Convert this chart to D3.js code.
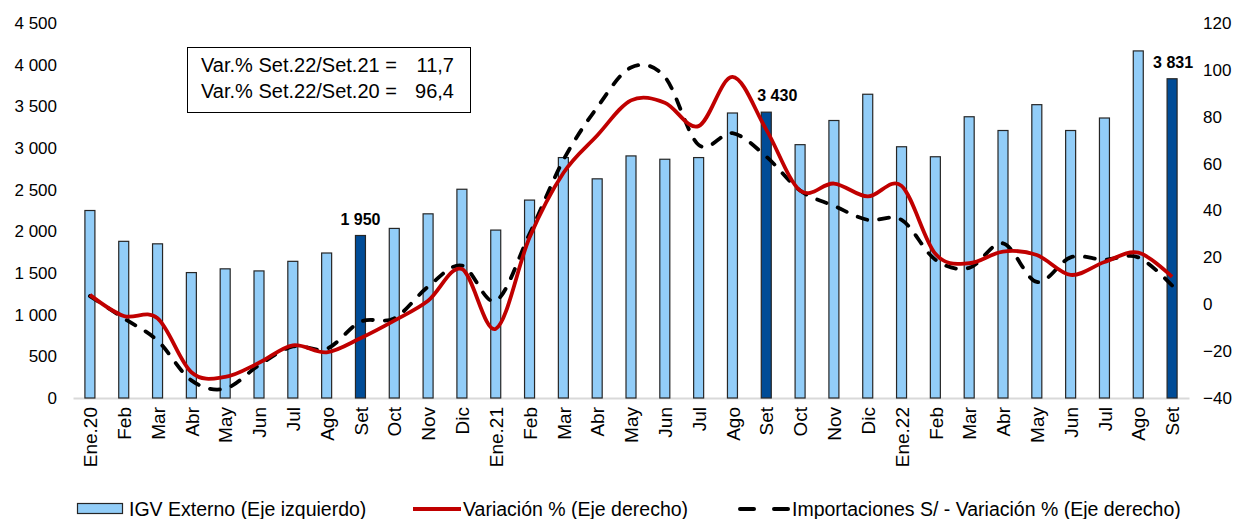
<!DOCTYPE html>
<html>
<head>
<meta charset="utf-8">
<script src="https://cdn.jsdelivr.net/npm/d3@7"></script>
<style>
  html, body { margin: 0; padding: 0; background: #fff; }
  svg { display: block; font-family: "Liberation Sans", Arial, sans-serif; }
</style>
</head>
<body>
<svg id="chart" width="1238" height="519"></svg>
<script>
// ---------- data ----------
const months = ["Ene.20","Feb","Mar","Abr","May","Jun","Jul","Ago","Set","Oct","Nov","Dic",
                "Ene.21","Feb","Mar","Abr","May","Jun","Jul","Ago","Set","Oct","Nov","Dic",
                "Ene.22","Feb","Mar","Abr","May","Jun","Jul","Ago","Set"];
const igvExterno = [2250,1880,1850,1505,1550,1525,1640,1740,1950,2035,2210,2505,
                    2015,2375,2885,2630,2905,2865,2885,3420,3430,3040,3330,3645,
                    3015,2895,3375,3210,3520,3210,3360,4165,3831];
const variacion = [4,-5,-6,-29,-31,-25,-17.5,-20.5,-14.5,-7,1.5,15,
                   -10.5,28.5,56,72,87,86,76,97,74.5,48.5,51.5,46,
                   50.5,21.5,17.5,22.5,21,12.5,18,22,11.7];
const importaciones = [3.5,-6,-15.5,-32.5,-36,-26,-18,-19,-7.5,-6,7.5,16.5,
                       1.5,30,61.5,84,101,97,68,73,63,48.5,42,36,
                       36,19,15.5,26,9.5,20,19,20,8];
const highlighted = [8, 20, 32];          // Set.20, Set.21, Set.22
const barLabels = ["1 950", "3 430", "3 831"];
const leftTicks = [0,500,1000,1500,2000,2500,3000,3500,4000,4500];
const rightTicks = [-40,-20,0,20,40,60,80,100,120];
const boxLines = ["Var.% Set.22/Set.21 =", "Var.% Set.22/Set.20 ="];
const boxValues = ["11,7", "96,4"];
const legendLabels = ["IGV Externo (Eje izquierdo)", "Variación % (Eje derecho)",
                      "Importaciones S/ - Variación % (Eje derecho)"];

// ---------- setup ----------
const svg = d3.select("#chart");
const plot = { left: 73, right: 1189, top: 23, bottom: 398 };
const idx = d3.range(months.length);

const x = d3.scalePoint().domain(idx).range([plot.left, plot.right]).padding(0.5);
const yL = d3.scaleLinear().domain([0, 4500]).range([plot.bottom, plot.top]);
const yR = d3.scaleLinear().domain([-40, 120]).range([plot.bottom, plot.top]);

const loc = d3.formatLocale({ decimal: ",", thousands: " ", grouping: [3], currency: ["", ""] });
const fmt = loc.format(",");

const lightBlue = "#92CDF8";
const darkBlue = "#004C97";
const red = "#C00000";
const barW = 10;
const FONT = '"Liberation Sans", Arial, sans-serif';

// ---------- axes ----------
const axL = svg.append("g").attr("transform", `translate(60,0)`)
  .call(d3.axisLeft(yL).tickValues(leftTicks).tickFormat(fmt).tickSize(0).tickPadding(3));
axL.select(".domain").remove();
axL.selectAll("text").attr("font-size", 17).attr("fill", "#000").attr("font-family", FONT);

const axR = svg.append("g").attr("transform", `translate(1200,0)`)
  .call(d3.axisRight(yR).tickValues(rightTicks).tickSize(0).tickPadding(3));
axR.select(".domain").remove();
axR.selectAll("text").attr("font-size", 17).attr("fill", "#000").attr("font-family", FONT);

const axB = svg.append("g").attr("transform", `translate(0,${plot.bottom})`)
  .call(d3.axisBottom(x).tickFormat(i => months[i]).tickSize(0).tickSizeOuter(0));
axB.select(".domain").attr("stroke", "#d9d9d9").attr("stroke-width", 2);
axB.selectAll("text")
  .attr("font-size", 19).attr("fill", "#000").attr("font-family", FONT)
  .attr("text-anchor", "end")
  .attr("transform", "rotate(-90)")
  .attr("x", -9).attr("y", 0).attr("dy", "0.35em");

// ---------- bars ----------
svg.append("g").selectAll("rect").data(idx).join("rect")
  .attr("x", i => x(i) - barW / 2)
  .attr("y", i => yL(igvExterno[i]))
  .attr("width", barW)
  .attr("height", i => yL(0) - yL(igvExterno[i]))
  .attr("fill", i => highlighted.includes(i) ? darkBlue : lightBlue)
  .attr("stroke", "#262626").attr("stroke-width", 1.2);

// ---------- lines ----------
const curve = d3.curveCardinal.tension(0);
const lineRed = d3.line().x(i => x(i)).y(i => yR(variacion[i])).curve(curve);
const lineBlk = d3.line().x(i => x(i)).y(i => yR(importaciones[i])).curve(curve);

svg.append("path").attr("d", lineBlk(idx))
  .attr("fill", "none").attr("stroke", "#000").attr("stroke-width", 3.8)
  .attr("stroke-dasharray", "10,12").attr("stroke-linecap", "round");
svg.append("path").attr("d", lineRed(idx))
  .attr("fill", "none").attr("stroke", red).attr("stroke-width", 3.8)
  .attr("stroke-linejoin", "round");

// ---------- bar labels ----------
const labelDx = [0, 11, 1];
svg.append("g").selectAll("text").data(highlighted).join("text")
  .attr("x", (i, k) => x(i) + labelDx[k])
  .attr("y", i => yL(igvExterno[i]) - 11)
  .attr("text-anchor", "middle")
  .attr("font-size", 16).attr("font-weight", "bold").attr("fill", "#000")
  .text((i, k) => barLabels[k]);

// ---------- text box ----------
const box = svg.append("g");
box.append("rect").attr("x", 187.5).attr("y", 47.5).attr("width", 283).attr("height", 65)
  .attr("fill", "#fff").attr("stroke", "#000").attr("stroke-width", 1);
boxLines.forEach((t, k) => {
  box.append("text").attr("x", 201).attr("y", 72 + k * 25.5)
    .attr("font-size", 20).attr("fill", "#000").text(t);
  box.append("text").attr("x", 454).attr("y", 72 + k * 25.5)
    .attr("text-anchor", "end").attr("font-size", 20).attr("fill", "#000").text(boxValues[k]);
});

// ---------- legend ----------
const lg = svg.append("g");
lg.append("rect").attr("x", 77.5).attr("y", 503.5).attr("width", 45).attr("height", 10)
  .attr("fill", lightBlue).attr("stroke", "#262626").attr("stroke-width", 1.2);
lg.append("text").attr("x", 129).attr("y", 516).attr("font-size", 19.5).attr("fill", "#000").text(legendLabels[0]);
lg.append("line").attr("x1", 413).attr("x2", 461).attr("y1", 509).attr("y2", 509)
  .attr("stroke", red).attr("stroke-width", 4);
lg.append("text").attr("x", 463).attr("y", 516).attr("font-size", 19.5).attr("fill", "#000").text(legendLabels[1]);
lg.append("line").attr("x1", 740).attr("x2", 788).attr("y1", 509).attr("y2", 509)
  .attr("stroke", "#000").attr("stroke-width", 4)
  .attr("stroke-dasharray", "14,20").attr("stroke-linecap", "round");
lg.append("text").attr("x", 792).attr("y", 516).attr("font-size", 19.5).attr("fill", "#000").text(legendLabels[2]);
</script>
</body>
</html>
